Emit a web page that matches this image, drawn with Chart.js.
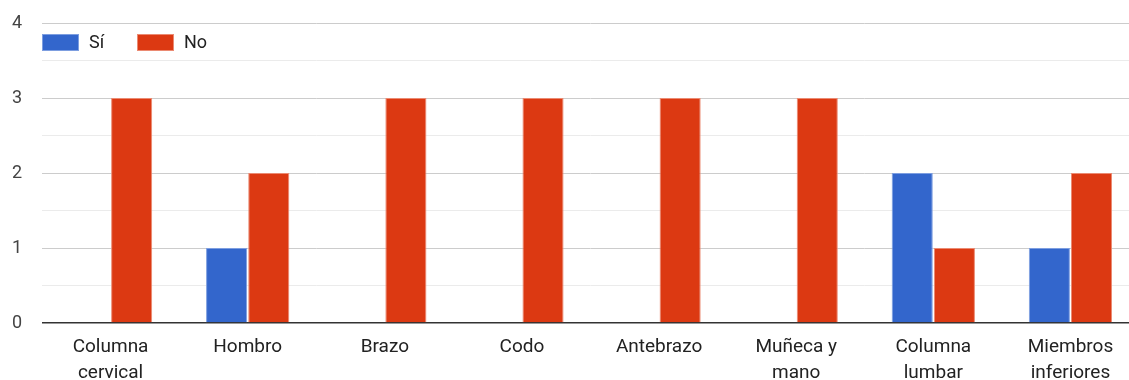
<!DOCTYPE html>
<html>
<head>
<meta charset="utf-8">
<script src="https://cdn.jsdelivr.net/npm/chart.js@4"></script>
<style>
  html, body { margin: 0; padding: 0; background: #fff; overflow: hidden; }
  #wrap { width: 1139px; height: 380px; }
</style>
</head>
<body>
<div id="wrap"><canvas id="myChart"></canvas></div>
<script>
const categories = [
  ['Columna', 'cervical'], 'Hombro', 'Brazo', 'Codo', 'Antebrazo',
  ['Muñeca y', 'mano'], ['Columna', 'lumbar'], ['Miembros', 'inferiores']
]
const si = [0, 1, 0, 0, 0, 0, 2, 1]
const no = [3, 2, 3, 3, 3, 3, 1, 2]
const yTicks = [0, 1, 2, 3, 4]

Chart.defaults.font.family = 'Roboto, Arial, sans-serif'

// legend drawn inside the plot, in one row at the top left
const topLegend = {
  id: 'topLegend',
  afterDatasetsDraw(chart) {
    const ctx = chart.ctx
    const area = chart.chartArea
    let x = area.left
    const y = area.top + 11
    ctx.save()
    ctx.font = '18px Roboto, Arial, sans-serif'
    ctx.textBaseline = 'middle'
    chart.data.datasets.forEach(ds => {
      ctx.fillStyle = ds.backgroundColor
      ctx.fillRect(x, y, 37, 17)
      ctx.strokeStyle = ds.borderColor
      ctx.lineWidth = 1
      ctx.strokeRect(x + 0.5, y + 0.5, 36, 16)
      ctx.fillStyle = '#222'
      ctx.fillText(ds.label, x + 47, y + 9)
      x += 95
    })
    ctx.restore()
  }
}

new Chart('myChart', {
  type: 'bar',
  data: {
    labels: categories,
    datasets: [{
      label: 'Sí',
      data: si,
      backgroundColor: '#3366cc',
      borderColor: '#7d9ee0',
      borderWidth: 1,
      categoryPercentage: 0.615,
      barPercentage: 0.975
    },
    {
      label: 'No',
      data: no,
      backgroundColor: '#dc3912',
      borderColor: '#eb8a72',
      borderWidth: 1,
      categoryPercentage: 0.615,
      barPercentage: 0.975
    }]
  },
  plugins: [topLegend],
  options: {
    responsive: true,
    maintainAspectRatio: false,
    animation: false,
    layout: { padding: { top: 23, right: 0, left: 12, bottom: 0 } },
    plugins: {
      tooltip: { enabled: false },
      legend: { display: false }
    },
    scales: {
      x: {
        afterFit: (s) => { s.height = 57 },
        grid: { display: false, drawTicks: false },
        border: { display: false },
        ticks: { color: '#222', padding: 11, maxRotation: 0, autoSkip: false, font: { size: 19, lineHeight: 1.37 } }
      },
      y: {
        min: 0,
        max: 4,
        afterFit: (s) => { s.width = 30 },
        grid: {
          drawTicks: false,
          color: (c) => c.tick.value === 0 ? '#333' : (Number.isInteger(c.tick.value) ? '#cccccc' : '#ebebeb'),
          lineWidth: (c) => c.tick.value === 0 ? 1.5 : 1
        },
        border: { display: false },
        ticks: {
          stepSize: 0.5,
          padding: 0,
          crossAlign: 'far',
          color: '#444',
          font: { size: 18 },
          callback: (v) => yTicks.includes(v) ? v : ''
        }
      }
    }
  }
})
</script>
</body>
</html>
